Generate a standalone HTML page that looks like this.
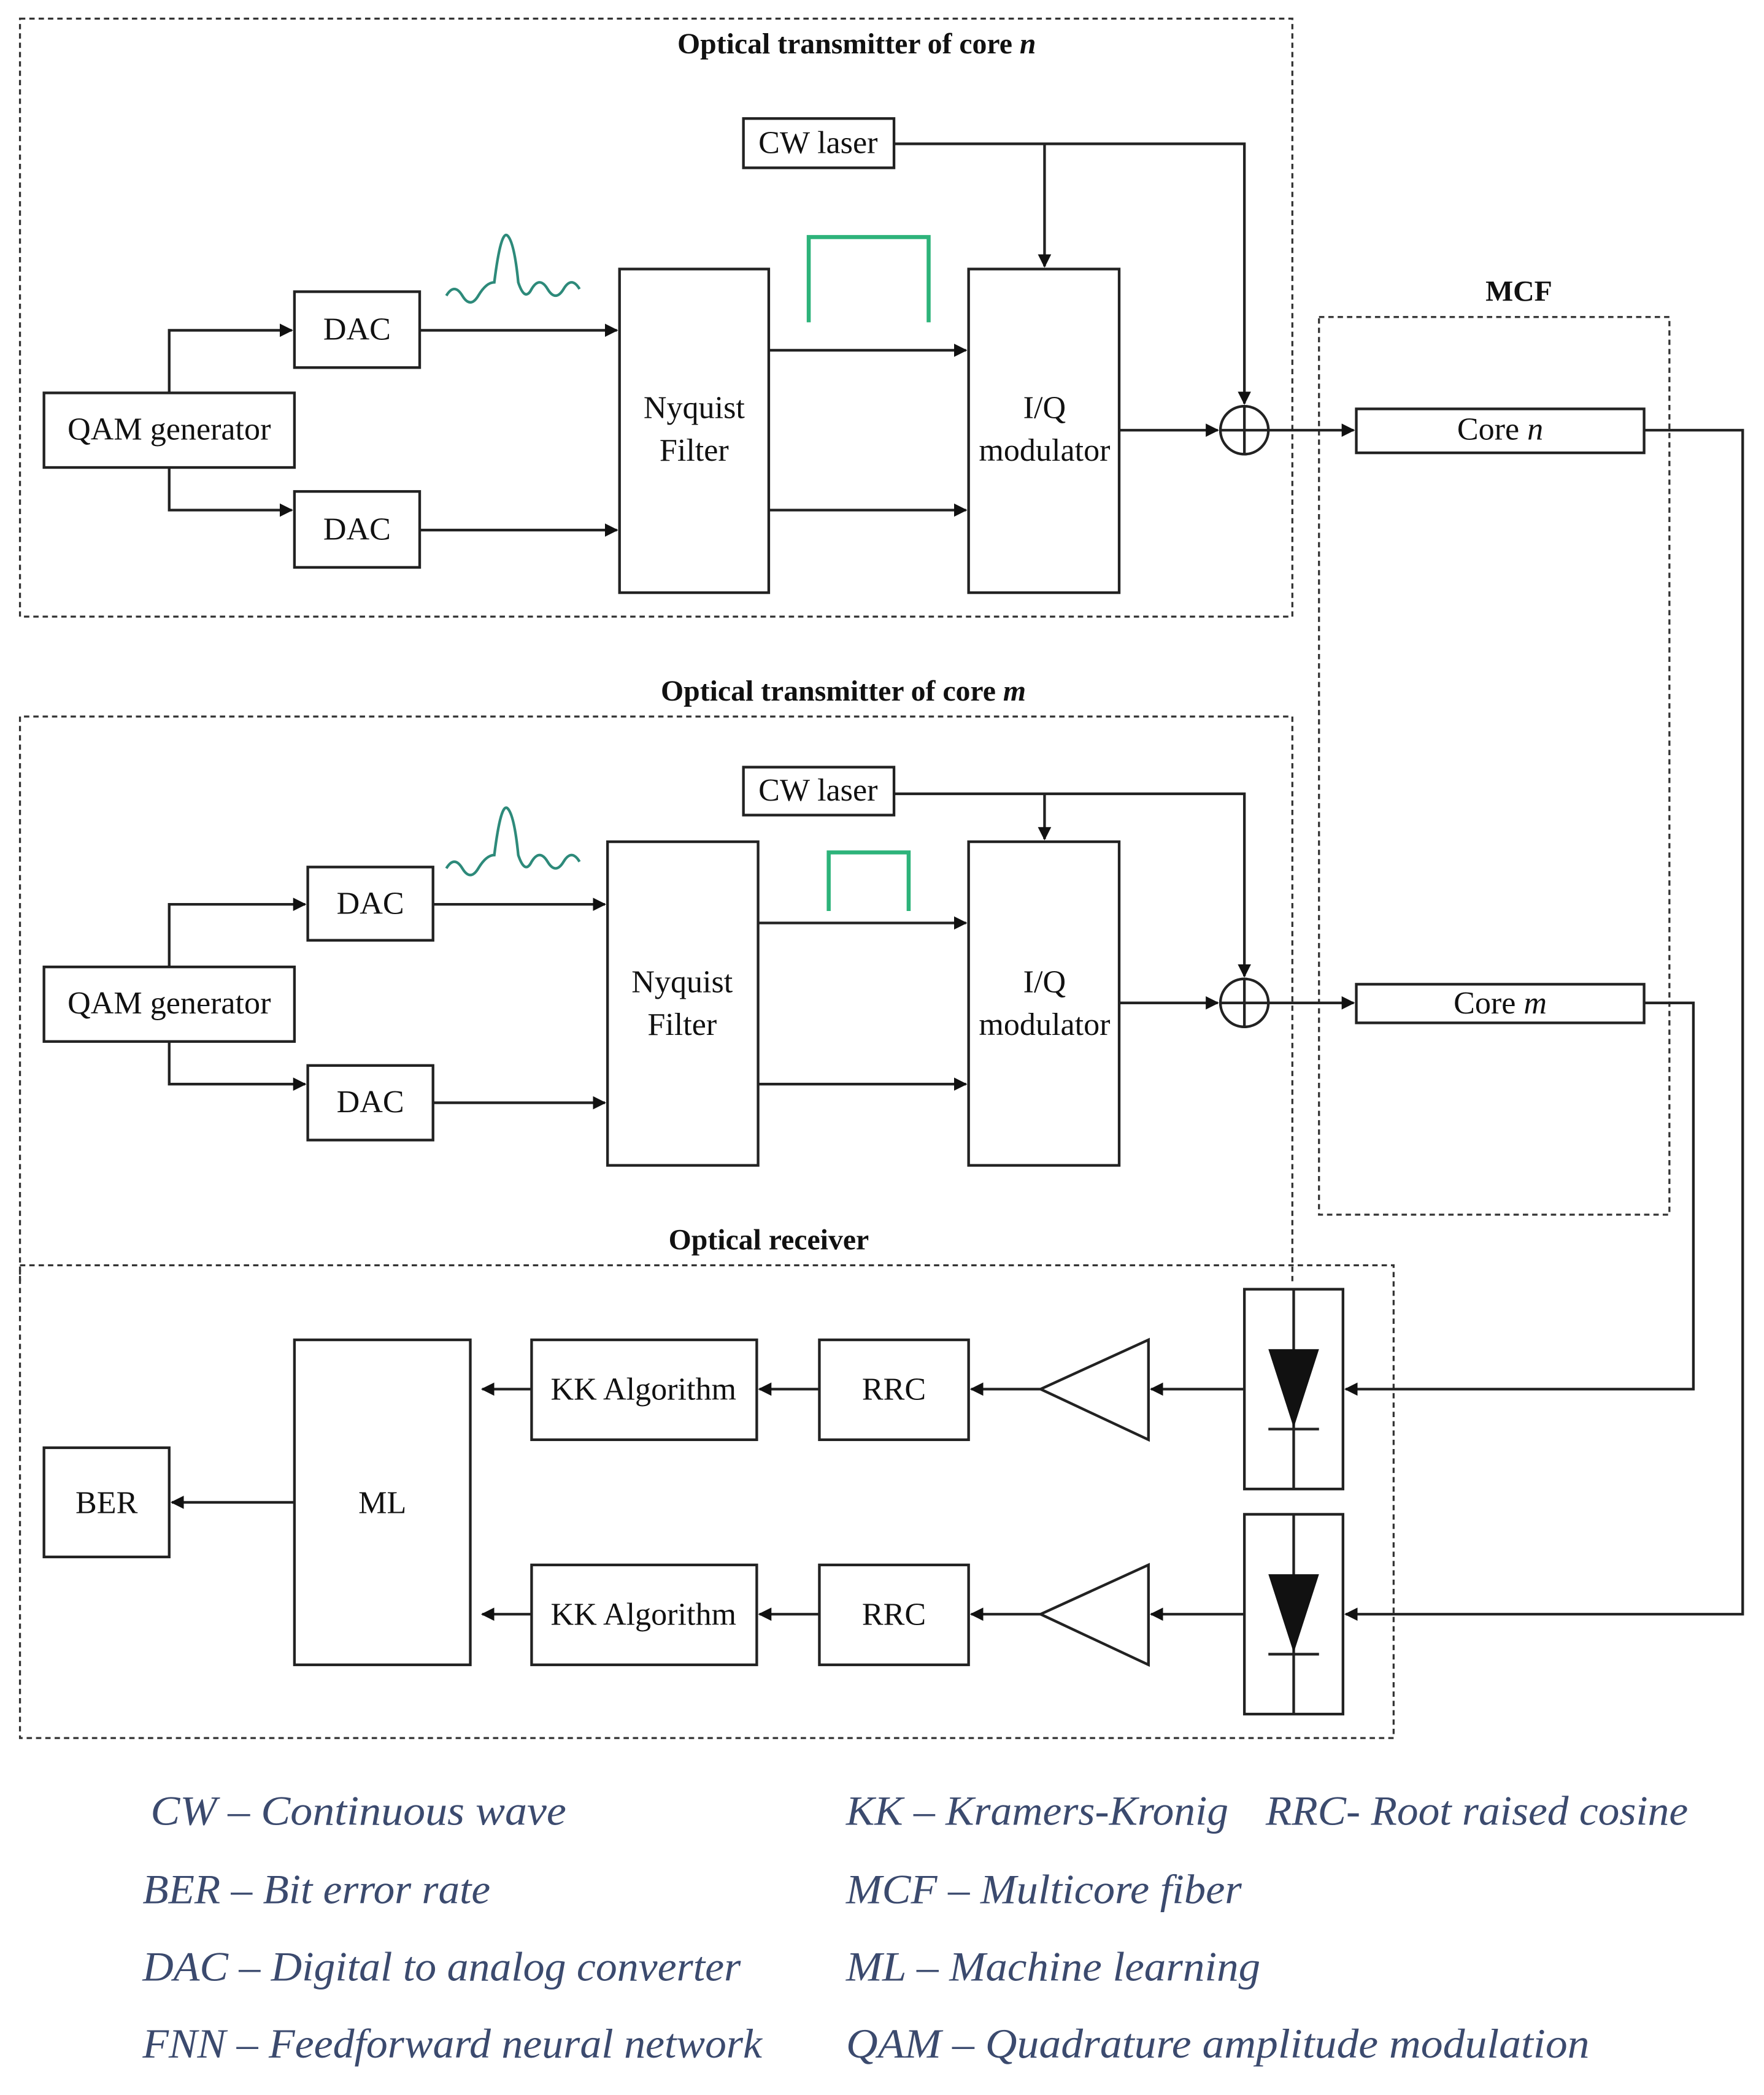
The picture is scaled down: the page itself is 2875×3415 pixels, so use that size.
<!DOCTYPE html>
<html><head><meta charset="utf-8"><style>
html,body{margin:0;padding:0;background:#fff}
svg{display:block}
text{font-family:"Liberation Serif",serif;fill:#111}
.b{fill:#fff;stroke:#222;stroke-width:2}
.l{fill:none;stroke:#222;stroke-width:2}
.d{fill:none;stroke:#333;stroke-width:1.5;stroke-dasharray:4,3}
.t{font-size:24px;text-anchor:middle}
.h{font-size:22px;font-weight:bold;text-anchor:middle}
.g{font-size:31px;font-style:italic;fill:#3b4a6e}
</style></head><body>
<svg width="2875" height="3415" viewBox="0 0 1324 1573" preserveAspectRatio="none" xmlns="http://www.w3.org/2000/svg">
<defs><marker id="a" markerWidth="10" markerHeight="10" refX="9" refY="5" orient="auto" markerUnits="userSpaceOnUse"><path d="M0,0L10,5L0,10z" fill="#111"/></marker></defs>

<rect class="d" x="15" y="14" width="955" height="449"/>
<text class="h" x="643" y="40">Optical transmitter of core <tspan font-style="italic">n</tspan></text>
<path class="d" d="M15,962 V538 H970 V962"/>
<text class="h" x="633" y="526">Optical transmitter of core <tspan font-style="italic">m</tspan></text>
<rect class="d" x="990" y="238" width="263" height="674"/>
<text class="h" x="1140" y="226">MCF</text>
<rect class="d" x="15" y="950" width="1031" height="355"/>
<text class="h" x="577" y="938">Optical receiver</text>

<rect class="b" x="558" y="89" width="113" height="37"/><text class="t" x="614" y="115">CW laser</text>
<rect class="b" x="221" y="219" width="94" height="57"/><text class="t" x="268" y="255">DAC</text>
<rect class="b" x="221" y="369" width="94" height="57"/><text class="t" x="268" y="405">DAC</text>
<rect class="b" x="33" y="295" width="188" height="56"/><text class="t" x="127" y="330">QAM generator</text>
<rect class="b" x="465" y="202" width="112" height="243"/><text class="t" x="521" y="314">Nyquist</text><text class="t" x="521" y="346">Filter</text>
<rect class="b" x="727" y="202" width="113" height="243"/><text class="t" x="784" y="314">I/Q</text><text class="t" x="784" y="346">modulator</text>
<circle class="l" cx="934" cy="323" r="18"/><path class="l" d="M916,323H952M934,305V341"/>
<path d="M607,242V178H697V242" fill="none" stroke="#2db37a" stroke-width="3"/>
<path d="M335,222 q6,-10 12,0 q6,10 12,0 q6,-10 12,-10 q5,-40 10,-35 q5,5 8,35 q5,15 10,5 q6,-10 12,0 q6,10 12,0 q6,-10 12,0" fill="none" stroke="#2d8a7a" stroke-width="2"/>
<path class="l" d="M127,295V248H219" marker-end="url(#a)"/>
<path class="l" d="M127,351V383H219" marker-end="url(#a)"/>
<path class="l" d="M315,248H463" marker-end="url(#a)"/>
<path class="l" d="M315,398H463" marker-end="url(#a)"/>
<path class="l" d="M577,263H725" marker-end="url(#a)"/>
<path class="l" d="M577,383H725" marker-end="url(#a)"/>
<path class="l" d="M671,108H934V303" marker-end="url(#a)"/>
<path class="l" d="M784,108V200" marker-end="url(#a)"/>
<path class="l" d="M840,323H914" marker-end="url(#a)"/>
<path class="l" d="M952,323H1016" marker-end="url(#a)"/>

<rect class="b" x="558" y="576" width="113" height="36"/><text class="t" x="614" y="601">CW laser</text>
<rect class="b" x="231" y="651" width="94" height="55"/><text class="t" x="278" y="686">DAC</text>
<rect class="b" x="231" y="800" width="94" height="56"/><text class="t" x="278" y="835">DAC</text>
<rect class="b" x="33" y="726" width="188" height="56"/><text class="t" x="127" y="761">QAM generator</text>
<rect class="b" x="456" y="632" width="113" height="243"/><text class="t" x="512" y="745">Nyquist</text><text class="t" x="512" y="777">Filter</text>
<rect class="b" x="727" y="632" width="113" height="243"/><text class="t" x="784" y="745">I/Q</text><text class="t" x="784" y="777">modulator</text>
<circle class="l" cx="934" cy="753" r="18"/><path class="l" d="M916,753H952M934,735V771"/>
<path d="M622,684V640H682V684" fill="none" stroke="#2db37a" stroke-width="3"/>
<path d="M335,652 q6,-10 12,0 q6,10 12,0 q6,-10 12,-10 q5,-40 10,-35 q5,5 8,35 q5,15 10,5 q6,-10 12,0 q6,10 12,0 q6,-10 12,0" fill="none" stroke="#2d8a7a" stroke-width="2"/>
<path class="l" d="M127,726V679H229" marker-end="url(#a)"/>
<path class="l" d="M127,782V814H229" marker-end="url(#a)"/>
<path class="l" d="M325,679H454" marker-end="url(#a)"/>
<path class="l" d="M325,828H454" marker-end="url(#a)"/>
<path class="l" d="M569,693H725" marker-end="url(#a)"/>
<path class="l" d="M569,814H725" marker-end="url(#a)"/>
<path class="l" d="M671,596H934V733" marker-end="url(#a)"/>
<path class="l" d="M784,596V630" marker-end="url(#a)"/>
<path class="l" d="M840,753H914" marker-end="url(#a)"/>
<path class="l" d="M952,753H1016" marker-end="url(#a)"/>

<rect class="b" x="1018" y="307" width="216" height="33"/><text class="t" x="1126" y="330">Core <tspan font-style="italic">n</tspan></text>
<rect class="b" x="1018" y="739" width="216" height="29"/><text class="t" x="1126" y="761">Core <tspan font-style="italic">m</tspan></text>
<path class="l" d="M1234,323H1308V1212H1010" marker-end="url(#a)"/>
<path class="l" d="M1234,753H1271V1043H1010" marker-end="url(#a)"/>

<rect class="b" x="934" y="968" width="74" height="150"/>
<rect class="b" x="934" y="1137" width="74" height="150"/>
<path class="l" d="M971,968V1118M971,1137V1287"/>
<path d="M952,1013H990L971,1072z" fill="#111"/><path class="l" d="M952,1073H990"/>
<path d="M952,1182H990L971,1241z" fill="#111"/><path class="l" d="M952,1242H990"/>
<path class="l" d="M862,1006V1081L781,1043z"/>
<path class="l" d="M862,1175V1250L781,1212z"/>
<rect class="b" x="615" y="1006" width="112" height="75"/><text class="t" x="671" y="1051">RRC</text>
<rect class="b" x="615" y="1175" width="112" height="75"/><text class="t" x="671" y="1220">RRC</text>
<rect class="b" x="399" y="1006" width="169" height="75"/><text class="t" x="483" y="1051">KK Algorithm</text>
<rect class="b" x="399" y="1175" width="169" height="75"/><text class="t" x="483" y="1220">KK Algorithm</text>
<rect class="b" x="221" y="1006" width="132" height="244"/><text class="t" x="287" y="1136">ML</text>
<rect class="b" x="33" y="1087" width="94" height="82"/><text class="t" x="80" y="1136">BER</text>
<path class="l" d="M934,1043H864" marker-end="url(#a)"/>
<path class="l" d="M934,1212H864" marker-end="url(#a)"/>
<path class="l" d="M781,1043H729" marker-end="url(#a)"/>
<path class="l" d="M781,1212H729" marker-end="url(#a)"/>
<path class="l" d="M615,1043H570" marker-end="url(#a)"/>
<path class="l" d="M615,1212H570" marker-end="url(#a)"/>
<path class="l" d="M399,1043H362" marker-end="url(#a)"/>
<path class="l" d="M399,1212H362" marker-end="url(#a)"/>
<path class="l" d="M221,1128H129" marker-end="url(#a)"/>

<text class="g" x="113" y="1370" textLength="312" lengthAdjust="spacingAndGlyphs">CW – Continuous wave</text>
<text class="g" x="107" y="1429" textLength="261" lengthAdjust="spacingAndGlyphs">BER – Bit error rate</text>
<text class="g" x="107" y="1487" textLength="449" lengthAdjust="spacingAndGlyphs">DAC – Digital to analog converter</text>
<text class="g" x="107" y="1545" textLength="465" lengthAdjust="spacingAndGlyphs">FNN – Feedforward neural network</text>
<text class="g" x="635" y="1370" textLength="287" lengthAdjust="spacingAndGlyphs">KK – Kramers-Kronig</text>
<text class="g" x="950" y="1370" textLength="317" lengthAdjust="spacingAndGlyphs">RRC- Root raised cosine</text>
<text class="g" x="635" y="1429" textLength="297" lengthAdjust="spacingAndGlyphs">MCF – Multicore fiber</text>
<text class="g" x="635" y="1487" textLength="311" lengthAdjust="spacingAndGlyphs">ML – Machine learning</text>
<text class="g" x="635" y="1545" textLength="558" lengthAdjust="spacingAndGlyphs">QAM – Quadrature amplitude modulation</text>
</svg>
</body></html>
